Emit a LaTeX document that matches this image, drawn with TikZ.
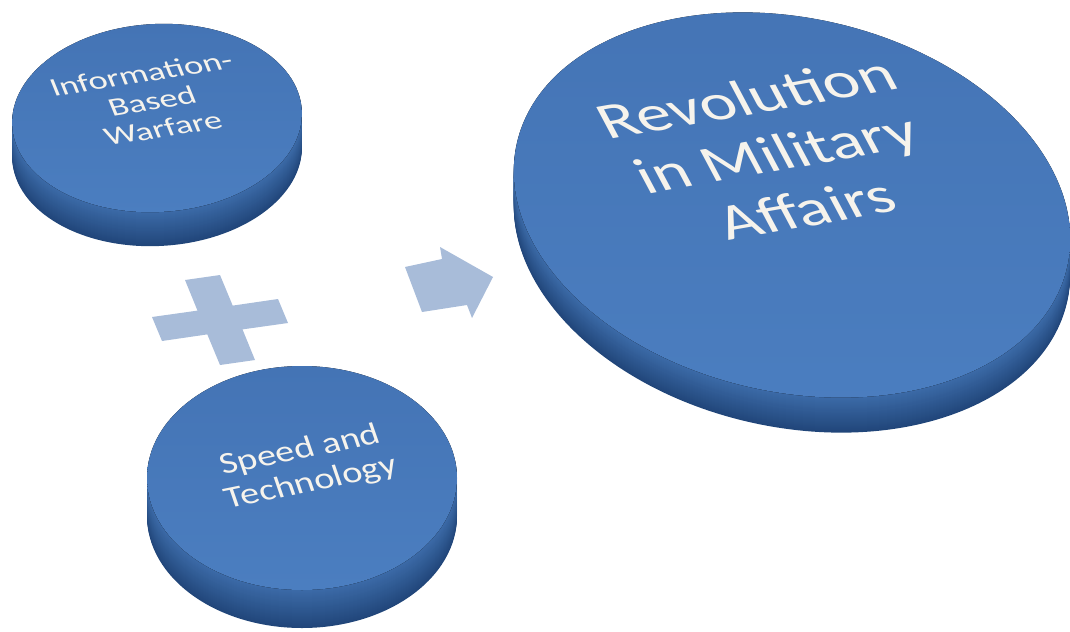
\documentclass[tikz,border=0pt]{standalone}
\usepackage{fontspec}
\setmainfont{Carlito}
\definecolor{discface}{HTML}{4474B5}
\definecolor{disclow}{HTML}{4B7EC0}
\definecolor{sidetop}{HTML}{3C6BA8}
\definecolor{sidebot}{HTML}{21467A}
\definecolor{signblue}{HTML}{A8BCD9}
\definecolor{textwhite}{HTML}{F6F3EC}

\begin{document}
\begin{tikzpicture}[x=0.025cm,y=-0.025cm,
  disctext/.style={text=textwhite,align=center,inner sep=0pt},
  signshape/.style={fill=signblue}]
  \useasboundingbox (0,0) rectangle (1070,631);
  % discs: centre / radii / tilt / thickness
  \foreach \cx/\cy/\rx/\ry/\ang/\th in {157/118/145/94/3/34,302/478/155/112/0/38,792/205/282/187/-12.6/35} {
    \foreach \d in {\th,...,1} {
      \pgfmathtruncatemacro\pct{100*\d/\th}
      \fill[sidebot!\pct!sidetop,rotate around={\ang:(\cx,\cy+\d)}] (\cx,\cy+\d) ellipse [x radius=\rx,y radius=\ry];
    }
    \fill[top color=discface,bottom color=disclow,rotate around={\ang:(\cx,\cy)}] (\cx,\cy) ellipse [x radius=\rx,y radius=\ry];
  }
  % plus and arrow
  \fill[signshape] (152,317) -- (197.5,310.6) -- (185,280) -- (220,275) -- (232.7,305.6) -- (278,299) -- (288,323)
    -- (242.5,329.4) -- (255,360) -- (220,365) -- (207.3,334.4) -- (162,341) -- cycle;
  \fill[signshape] (405,267) -- (442,259) -- (440,247) -- (493,277) -- (472,318) -- (467,305) -- (422,312) -- cycle;
  % texts
  \node[disctext,font=\fontsize{17}{18.6}\selectfont,cm={1.481,0.235,-0.420,1.038,(0,0)}] (ibw) at (152,101) {Information-\\Based\\Warfare};
  \node[disctext,font=\fontsize{18.5}{20.3}\selectfont,cm={1.431,0.291,-0.387,1.125,(0,0)}] (speed) at (306,467) {Speed and\\Technology};
  \node[disctext,font=\fontsize{31.3}{36}\selectfont,cm={1.526,0.269,-0.587,1.104,(0,0)}] (rma) at (776,153) {Revolution\\in Military\\Affairs};
\end{tikzpicture}
\end{document}
